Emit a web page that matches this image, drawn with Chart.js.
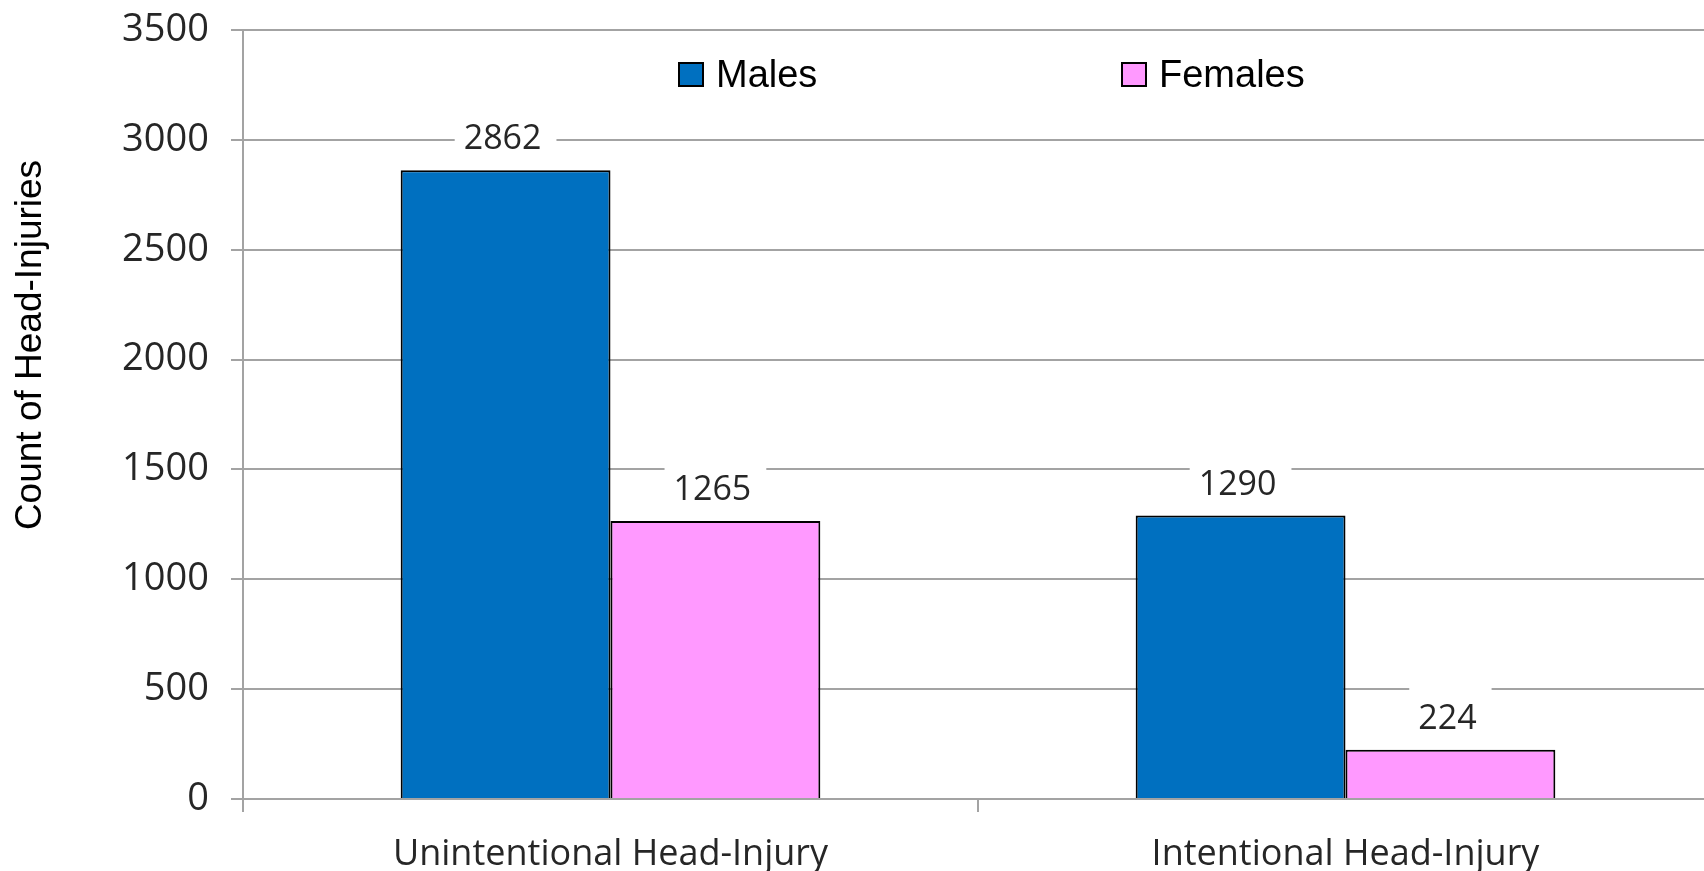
<!DOCTYPE html>
<html>
<head>
<meta charset="utf-8">
<script src="https://cdn.jsdelivr.net/npm/chart.js@4.4.0/dist/chart.umd.min.js"></script>
<style>
  html, body { margin: 0; padding: 0; overflow: hidden; background: #ffffff; }
  #wrap { width: 1716px; height: 871px; position: relative; }
</style>
</head>
<body>
<div id="wrap"><canvas id="chart"></canvas></div>
<script>
// ---- data ----
const categories = ["Unintentional Head-Injury", "Intentional Head-Injury"];
const seriesNames = ["Males", "Females"];
const malesValues = [2862, 1290];
const femalesValues = [1265, 224];
const yTickValues = [0, 500, 1000, 1500, 2000, 2500, 3000, 3500];
const yAxisTitle = "Count of Head-Injuries";

// ---- styles ----
const MALE_COLOR = "#0070C0";
const FEMALE_COLOR = "#FF99FF";
const GRID_COLOR = "#a3a3a3";
const TEXT_COLOR = "#262626";

const valueLabels = {
  id: "valueLabels",
  afterDatasetsDraw(chart) {
    const ctx = chart.ctx;
    ctx.save();
    ctx.font = '34px "Open Sans"';
    ctx.textAlign = "center";
    ctx.textBaseline = "alphabetic";
    chart.data.datasets.forEach((ds, i) => {
      const meta = chart.getDatasetMeta(i);
      meta.data.forEach((bar, j) => {
        const txt = String(ds.data[j]);
        const w = ctx.measureText(txt).width + 24;
        const cy = bar.y - 33;
        ctx.fillStyle = "#ffffff";
        ctx.fillRect(bar.x - w / 2, cy - 29, w, 56);
        ctx.fillStyle = TEXT_COLOR;
        ctx.fillText(txt, bar.x - 3, cy + 12);
      });
    });
    ctx.restore();
  }
};

const insideLegend = {
  id: "insideLegend",
  afterDraw(chart) {
    const ctx = chart.ctx;
    const a = chart.chartArea;
    const xs = [a.left + 435, a.left + 878];
    ctx.save();
    ctx.font = '38px "Liberation Sans"';
    ctx.textBaseline = "alphabetic";
    ctx.textAlign = "left";
    chart.data.datasets.forEach((ds, i) => {
      const x = xs[i], y = 62;
      ctx.fillStyle = ds.backgroundColor;
      ctx.fillRect(x, y, 26, 25);
      ctx.strokeStyle = "#000000";
      ctx.lineWidth = 2;
      ctx.strokeRect(x + 1, y + 1, 24, 23);
      ctx.fillStyle = "#000000";
      ctx.fillText(ds.label, x + 38, y + 25);
    });
    ctx.restore();
  }
};

const yTitle = {
  id: "yTitle",
  afterDraw(chart) {
    const ctx = chart.ctx;
    ctx.save();
    ctx.translate(41, 345);
    ctx.rotate(-Math.PI / 2);
    ctx.font = '37px "Liberation Sans"';
    ctx.textAlign = "center";
    ctx.textBaseline = "alphabetic";
    ctx.fillStyle = "#000000";
    ctx.fillText(yAxisTitle, 0, 0);
    ctx.restore();
  }
};

new Chart(document.getElementById("chart"), {
  type: "bar",
  data: {
    labels: categories,
    datasets: [
      { label: seriesNames[0], data: malesValues, backgroundColor: MALE_COLOR, borderColor: "#000000", borderWidth: 2 },
      { label: seriesNames[1], data: femalesValues, backgroundColor: FEMALE_COLOR, borderColor: "#000000", borderWidth: 2 }
    ]
  },
  options: {
    responsive: true,
    maintainAspectRatio: false,
    animation: false,
    devicePixelRatio: 1,
    layout: { padding: { top: 30, left: 0, right: 3, bottom: 0 } },
    datasets: { bar: { categoryPercentage: 0.571, barPercentage: 1.0 } },
    plugins: { legend: { display: false }, tooltip: { enabled: false } },
    scales: {
      x: {
        grid: { offset: true, drawOnChartArea: false, drawTicks: true, tickLength: 13, color: GRID_COLOR, lineWidth: 2 },
        border: { color: GRID_COLOR, width: 2 },
        ticks: { font: { family: '"Open Sans"', size: 36 }, color: TEXT_COLOR, padding: 21, maxRotation: 0 },
        afterFit(scale) { scale.height = 72; }
      },
      y: {
        min: 0,
        max: 3500,
        afterBuildTicks(scale) { scale.ticks = yTickValues.map(v => ({ value: v })); },
        grid: { color: GRID_COLOR, lineWidth: 2, tickLength: 12, drawTicks: true },
        border: { color: GRID_COLOR, width: 2 },
        ticks: { font: { family: '"Open Sans"', size: 38 }, color: TEXT_COLOR, padding: 22, callback: v => String(v) },
        afterFit(scale) { scale.width = 243; scale.paddingTop = 10; scale.paddingBottom = 10; }
      }
    }
  },
  plugins: [valueLabels, insideLegend, yTitle]
});
</script>
</body>
</html>
